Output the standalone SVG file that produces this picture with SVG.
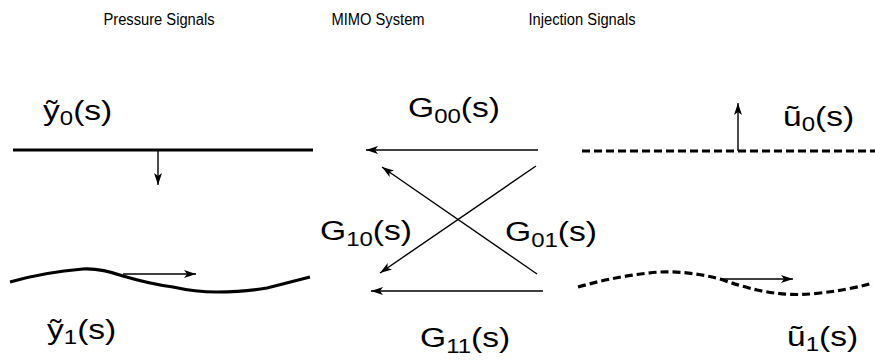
<svg xmlns="http://www.w3.org/2000/svg" width="875" height="360" viewBox="0 0 875 360">
<style>
.title{font-family:"Liberation Sans",Arial,sans-serif;font-size:16px;fill:#000}
.lbl{font-family:"Liberation Sans",Arial,sans-serif;font-size:28px;fill:#000}
.sub{font-size:20px}
.thick{fill:none;stroke:#000;stroke-width:3.2}
.dash{fill:none;stroke:#000;stroke-width:3.2;stroke-dasharray:8 4}
.arr{fill:none;stroke:#000;stroke-width:1.4;marker-end:url(#ah)}
</style>
<defs>
<marker id="ah" markerUnits="userSpaceOnUse" markerWidth="14" markerHeight="10" refX="12" refY="5" orient="auto">
<path d="M0,1 L12,5 L0,9 L3,5 Z" fill="#000"/>
</marker>
</defs>
<rect width="875" height="360" fill="#fff"/>
<g id="titles">
<text class="title" transform="translate(159,25) scale(0.92,1)" text-anchor="middle">Pressure Signals</text>
<text class="title" transform="translate(378,25) scale(0.92,1)" text-anchor="middle">MIMO System</text>
<text class="title" transform="translate(582,25) scale(0.92,1)" text-anchor="middle">Injection Signals</text>
</g>
<g id="y0">
<text class="lbl" transform="translate(43,120) scale(1.2,1)">ỹ<tspan class="sub" dy="5">0</tspan><tspan dy="-5">(s)</tspan></text>
<line class="thick" x1="13" y1="150" x2="313" y2="150"/>
<line class="arr" x1="158" y1="150" x2="158" y2="185"/>
</g>
<g id="y1">
<path class="thick" d="M10,282 Q45,272 83,269 Q100,268 123,276 Q150,284 173,287 Q195,292 217,292 Q245,292 267,288 L310,277"/>
<line class="arr" x1="123" y1="274" x2="196" y2="274"/>
<text class="lbl" transform="translate(47,339) scale(1.2,1)">ỹ<tspan class="sub" dy="5">1</tspan><tspan dy="-5">(s)</tspan></text>
</g>
<g id="u0">
<line class="dash" x1="582" y1="151" x2="875" y2="151"/>
<line class="arr" x1="738" y1="151" x2="738" y2="103"/>
<text class="lbl" transform="translate(783,126) scale(1.2,1)">ũ<tspan class="sub" dy="5">0</tspan><tspan dy="-5">(s)</tspan></text>
</g>
<g id="u1">
<path class="dash" d="M578,287 Q620,275 660,272 Q690,271 720,279 Q740,286 757,290 Q785,296 810,294 Q845,291 873,283"/>
<line class="arr" x1="720" y1="279" x2="793" y2="279"/>
<text class="lbl" transform="translate(787,346) scale(1.2,1)">ũ<tspan class="sub" dy="5">1</tspan><tspan dy="-5">(s)</tspan></text>
</g>
<g id="connectors">
<line class="arr" x1="538" y1="150" x2="366" y2="150"/>
<line class="arr" x1="537" y1="274" x2="382" y2="167"/>
<line class="arr" x1="536" y1="166" x2="380" y2="273"/>
<line class="arr" x1="543" y1="291" x2="371" y2="291"/>
<text class="lbl" transform="translate(408,117) scale(1.2,1)">G<tspan class="sub" dy="6">00</tspan><tspan dy="-6">(s)</tspan></text>
<text class="lbl" transform="translate(320,240) scale(1.2,1)">G<tspan class="sub" dy="6">10</tspan><tspan dy="-6">(s)</tspan></text>
<text class="lbl" transform="translate(505,241) scale(1.2,1)">G<tspan class="sub" dy="6">01</tspan><tspan dy="-6">(s)</tspan></text>
<text class="lbl" transform="translate(420,347) scale(1.2,1)">G<tspan class="sub" dy="6">11</tspan><tspan dy="-6">(s)</tspan></text>
</g>
</svg>
